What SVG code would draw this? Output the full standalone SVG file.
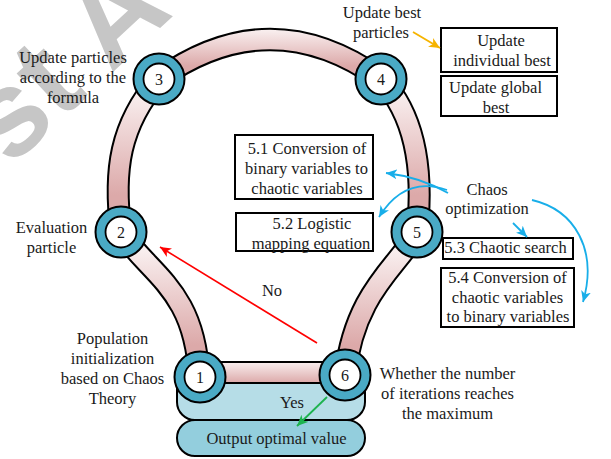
<svg xmlns="http://www.w3.org/2000/svg" width="611" height="459" viewBox="0 0 611 459">
  <style>
    .t { font-family: "Liberation Serif", "Times New Roman", serif; font-size: 16.5px; fill: #1a1a1a; text-anchor: middle; }
    .num { font-family: "Liberation Serif", "Times New Roman", serif; font-size: 16px; fill: #1a1a1a; text-anchor: middle; }
    .box { fill: #ffffff; stroke: #000000; stroke-width: 2; }
    .tube-edge { fill: none; stroke: #000000; stroke-width: 23; }
    .ring { fill: #4aaac5; stroke: #000000; stroke-width: 2; }
    .hole { fill: #ffffff; stroke: #000000; stroke-width: 1.8; }
    .blue { fill: none; stroke: #18aee9; stroke-width: 1.8; marker-end: url(#headBlue); }
  </style>
  <defs>
    <linearGradient id="gTop" gradientUnits="userSpaceOnUse" x1="0" y1="30" x2="0" y2="66">
      <stop offset="0" stop-color="#f9efef"/><stop offset="1" stop-color="#dca9a9"/>
    </linearGradient>
    <linearGradient id="gUpper" gradientUnits="userSpaceOnUse" x1="0" y1="92" x2="0" y2="195">
      <stop offset="0" stop-color="#f9efef"/><stop offset="1" stop-color="#dca9a9"/>
    </linearGradient>
    <linearGradient id="gLower" gradientUnits="userSpaceOnUse" x1="0" y1="250" x2="0" y2="345">
      <stop offset="0" stop-color="#f9efef"/><stop offset="1" stop-color="#dca9a9"/>
    </linearGradient>
    <linearGradient id="gBar" x1="0" y1="0" x2="0" y2="1">
      <stop offset="0" stop-color="#f9efef"/><stop offset="1" stop-color="#dca9a9"/>
    </linearGradient>
    <marker id="headBlue" markerUnits="userSpaceOnUse" markerWidth="12" markerHeight="10" refX="11" refY="5" orient="auto">
      <path d="M0,0 L11,5 L0,10 L3,5 z" fill="#18aee9"/>
    </marker>
    <marker id="headRed" markerUnits="userSpaceOnUse" markerWidth="12" markerHeight="10" refX="11" refY="5" orient="auto">
      <path d="M0,0 L11,5 L0,10 L3,5 z" fill="#ff0000"/>
    </marker>
    <marker id="headGreen" markerUnits="userSpaceOnUse" markerWidth="12" markerHeight="10" refX="11" refY="5" orient="auto">
      <path d="M0,0 L11,5 L0,10 L3,5 z" fill="#1db34f"/>
    </marker>
    <marker id="headGold" markerUnits="userSpaceOnUse" markerWidth="12" markerHeight="10" refX="11" refY="5" orient="auto">
      <path d="M0,0 L11,5 L0,10 L3,5 z" fill="#f6b400"/>
    </marker>
  </defs>

  <rect width="611" height="459" fill="#ffffff"/>

  <!-- watermark -->
  <text x="0" y="0" transform="translate(10,168) rotate(-43)" font-family="Liberation Sans, Arial, sans-serif" font-weight="bold" font-size="122" fill="#c6c6c6">st A</text>

  <!-- result trays under the loop -->
  <g id="yes-tray">
    <rect x="177" y="366" width="188" height="54" rx="18" fill="#b6dde7" stroke="#000" stroke-width="2"/>
  </g>
  <g id="output">
    <rect x="177" y="420" width="188" height="36" rx="18" fill="#93cedd" stroke="#000" stroke-width="2"/>
    <text class="t" x="276.5" y="443.5">Output optimal value</text>
  </g>

  <!-- pipe loop -->
  <g id="pipe">
    <path class="tube-edge" d="M121,232 C113,170 120,125 159,79"/>
    <path class="tube-edge" d="M159,79 Q270,0 381,79"/>
    <path class="tube-edge" d="M381,79 C410,110 425,160 417,232"/>
    <path class="tube-edge" d="M121,232 C150,275 195,290 199,377"/>
    <path class="tube-edge" d="M417,232 C400,265 355,290 345,375"/>
    <path d="M121,232 C113,170 120,125 159,79" fill="none" stroke="url(#gUpper)" stroke-width="19"/>
    <path d="M159,79 Q270,0 381,79" fill="none" stroke="url(#gTop)" stroke-width="19"/>
    <path d="M381,79 C410,110 425,160 417,232" fill="none" stroke="url(#gUpper)" stroke-width="19"/>
    <path d="M121,232 C150,275 195,290 199,377" fill="none" stroke="url(#gLower)" stroke-width="19"/>
    <path d="M417,232 C400,265 355,290 345,375" fill="none" stroke="url(#gLower)" stroke-width="19"/>
    <rect x="198" y="362" width="148" height="21" fill="url(#gBar)" stroke="#000" stroke-width="2"/>
  </g>

  <!-- numbered stations -->
  <g id="n1"><circle class="ring" cx="200" cy="377" r="25.5"/><circle class="hole" cx="200" cy="377" r="15.5"/><text class="num" x="200" y="382.5">1</text></g>
  <g id="n2"><circle class="ring" cx="121" cy="232" r="25.5"/><circle class="hole" cx="121" cy="232" r="15.5"/><text class="num" x="121" y="237.5">2</text></g>
  <g id="n3"><circle class="ring" cx="159" cy="79" r="25.5"/><circle class="hole" cx="159" cy="79" r="15.5"/><text class="num" x="159" y="84.5">3</text></g>
  <g id="n4"><circle class="ring" cx="381" cy="79" r="25.5"/><circle class="hole" cx="381" cy="79" r="15.5"/><text class="num" x="381" y="84.5">4</text></g>
  <g id="n5"><circle class="ring" cx="417" cy="232" r="25.5"/><circle class="hole" cx="417" cy="232" r="15.5"/><text class="num" x="417" y="237.5">5</text></g>
  <g id="n6"><circle class="ring" cx="345" cy="375" r="25.5"/><circle class="hole" cx="345" cy="375" r="15.5"/><text class="num" x="345" y="380.5">6</text></g>

  <!-- side boxes -->
  <g id="b-individual"><rect class="box" x="441" y="28" width="116" height="44"/><text class="t" x="501" y="45.5">Update</text><text class="t" x="502" y="65.5">individual best</text></g>
  <g id="b-global"><rect class="box" x="441" y="76" width="116" height="40"/><text class="t" x="495.5" y="92.5">Update global</text><text class="t" x="496" y="112.5">best</text></g>
  <g id="b51"><rect class="box" x="235" y="135" width="138" height="64"/><text class="t" x="307" y="153.5">5.1 Conversion of</text><text class="t" x="306.5" y="173.5">binary variables to</text><text class="t" x="307" y="193.5">chaotic variables</text></g>
  <g id="b52"><rect class="box" x="236" y="213" width="137" height="38"/><text class="t" x="312" y="228.5">5.2 Logistic</text><text class="t" x="311" y="248.5">mapping equation</text></g>
  <g id="b53"><rect class="box" x="443" y="238" width="130" height="21"/><text class="t" x="505.5" y="252.5">5.3 Chaotic search</text></g>
  <g id="b54"><rect class="box" x="441" y="268" width="133" height="59"/><text class="t" x="507.5" y="282.5">5.4 Conversion of</text><text class="t" x="507.5" y="302.5">chaotic variables</text><text class="t" x="508" y="321.5">to binary variables</text></g>

  <!-- connectors -->
  <g id="connectors">
    <path d="M413,32 L440,48" fill="none" stroke="#f6b400" stroke-width="1.8" marker-end="url(#headGold)"/>
    <path d="M317,343 L160,247" fill="none" stroke="#ff0000" stroke-width="1.6" marker-end="url(#headRed)"/>
    <path d="M327,397 L297,426" fill="none" stroke="#1db34f" stroke-width="1.8" marker-end="url(#headGreen)"/>
    <path class="blue" d="M448,193 Q420,177 386,173"/>
    <path class="blue" d="M447,190 Q405,175 379,217"/>
    <path class="blue" d="M513,223 L527,237"/>
    <path class="blue" d="M532,200 C575,210 598,250 583,302"/>
  </g>

  <!-- free labels -->
  <g id="labels">
    <text class="t" x="382" y="17.5">Update best</text>
    <text class="t" x="381" y="37.5">particles</text>
    <text class="t" x="73" y="62.5">Update particles</text>
    <text class="t" x="73" y="82.5">according to the</text>
    <text class="t" x="73" y="102.5">formula</text>
    <text class="t" x="51.5" y="232.5">Evaluation</text>
    <text class="t" x="51.5" y="252.5">particle</text>
    <text class="t" x="112.5" y="343.5">Population</text>
    <text class="t" x="112.5" y="363.5">initialization</text>
    <text class="t" x="112.5" y="383.5">based on Chaos</text>
    <text class="t" x="112.5" y="403.5">Theory</text>
    <text class="t" x="272" y="295.5">No</text>
    <text class="t" x="292" y="407.5">Yes</text>
    <text class="t" x="487" y="194.5">Chaos</text>
    <text class="t" x="487" y="213.5">optimization</text>
    <text class="t" x="447.5" y="378.5">Whether the number</text>
    <text class="t" x="447.5" y="398.5">of iterations reaches</text>
    <text class="t" x="447.5" y="418.5">the maximum</text>
  </g>
</svg>
